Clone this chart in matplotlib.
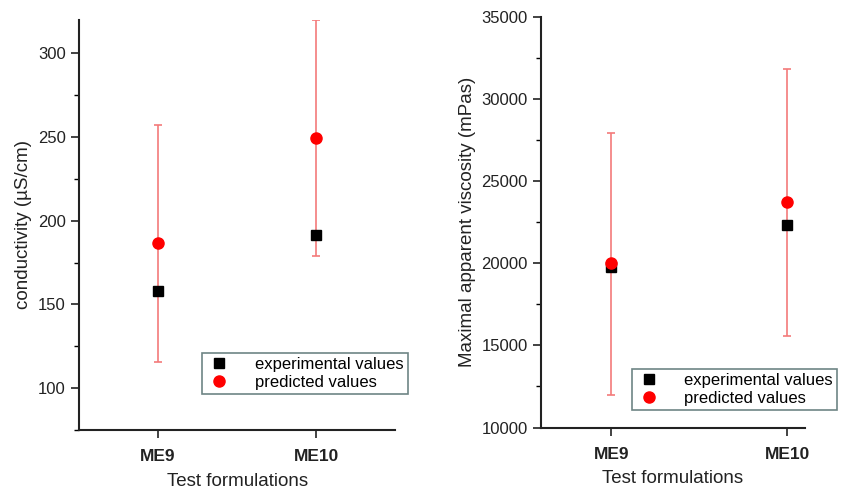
import matplotlib.pyplot as plt
from matplotlib.ticker import MultipleLocator

plt.rcParams['font.family'] = ['Liberation Sans', 'DejaVu Sans']

formulations = ["ME9", "ME10"]
# conductivity (uS/cm)
cond_exp = [158, 191.5]
cond_pred = [186.5, 249.5]
cond_err_low = [115.5, 179]
cond_err_high = [257, 320]
# viscosity (mPas)
visc_exp = [19750, 22300]
visc_pred = [20000, 23700]
visc_err_low = [12000, 15550]
visc_err_high = [27950, 31800]

x = [1, 2]
err_col = '#f47a7a'

fig = plt.figure(figsize=(8.41, 4.96), dpi=100)
ax1 = fig.add_axes([0.094, 0.133, 0.376, 0.827])
ax2 = fig.add_axes([0.643, 0.138, 0.314, 0.828])


def panel(ax, exp, pred, lo, hi, xlim, ylim, major, minor, ylabel, legpos):
    yerr = [[p - l for p, l in zip(pred, lo)], [h - p for p, h in zip(pred, hi)]]
    ax.errorbar(x, pred, yerr=yerr, fmt='none', ecolor=err_col, elinewidth=1.2,
                capsize=3, capthick=1.2, zorder=1)
    ax.plot(x, exp, 's', color='black', markersize=7, label='experimental values', zorder=3)
    ax.plot(x, pred, 'o', color='red', markersize=8, label='predicted values', zorder=3)
    ax.set_xlim(*xlim)
    ax.set_ylim(*ylim)
    ax.yaxis.set_major_locator(MultipleLocator(major))
    ax.yaxis.set_minor_locator(MultipleLocator(minor))
    ax.set_xticks(x)
    ax.set_xticklabels(formulations, fontweight='bold', fontsize=12.5)
    for s in ['top', 'right']:
        ax.spines[s].set_visible(False)
    for s in ['left', 'bottom']:
        ax.spines[s].set_linewidth(1.5)
        ax.spines[s].set_color('#222222')
    ax.tick_params(axis='y', which='major', direction='out', length=6, width=1.2, labelsize=12, colors='#222222')
    ax.tick_params(axis='y', which='minor', direction='out', length=3.5, width=1.0)
    ax.tick_params(axis='x', direction='out', length=6, width=1.2, colors='#222222', pad=8)
    ax.set_xlabel('Test formulations', fontsize=13.5, color='#222222', labelpad=6)
    ax.set_ylabel(ylabel, fontsize=13.5, color='#222222')
    leg = ax.legend(loc='lower left', bbox_to_anchor=legpos, fontsize=12, frameon=True,
                    fancybox=False, edgecolor='#4a6666', handletextpad=1.4,
                    borderpad=0.25, labelspacing=0.15, handlelength=1.5,
                    borderaxespad=0)
    leg.get_frame().set_linewidth(1.2)


panel(ax1, cond_exp, cond_pred, cond_err_low, cond_err_high,
      (0.5, 2.5), (75, 320), 50, 25, 'conductivity (µS/cm)', (0.39, 0.088))
panel(ax2, visc_exp, visc_pred, visc_err_low, visc_err_high,
      (0.6, 2.1), (10000, 35000), 5000, 2500, 'Maximal apparent viscosity (mPas)', (0.345, 0.043))

fig.savefig('out.png', dpi=100)
